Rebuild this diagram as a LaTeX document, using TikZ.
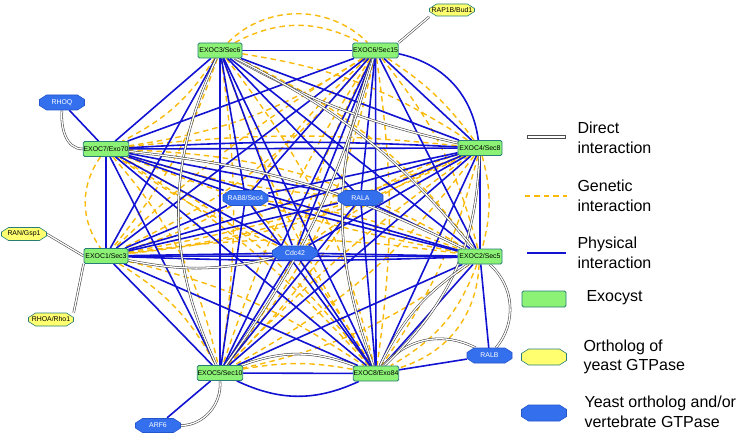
\documentclass[tikz,border=0pt]{standalone}
\usepackage{fontspec}
\setmainfont{Liberation Sans}
\pgfdeclarelayer{bg}
\pgfsetlayers{bg,main}
\definecolor{exofill}{RGB}{140,242,118}
\definecolor{exoborder}{RGB}{40,125,120}
\definecolor{gtpblue}{RGB}{52,112,238}
\definecolor{gtpborder}{RGB}{35,85,205}
\definecolor{gtpyellow}{RGB}{255,255,112}
\definecolor{physblue}{RGB}{18,18,210}
\definecolor{genyellow}{RGB}{250,186,10}
\tikzset{
  exo/.style={draw=exoborder, fill=exofill, rounded corners=1.5pt, minimum width=44pt, minimum height=15pt, inner sep=0.3pt, line width=0.8pt, font=\fontsize{6.9}{7}\selectfont},
  gtpb/.style={draw=gtpborder, fill=gtpblue, line width=0.6pt},
  gtpy/.style={draw=exoborder, fill=gtpyellow, line width=0.6pt},
  gtpbtxt/.style={rectangle, minimum width=45pt, minimum height=15pt, inner sep=0.3pt, text=white, font=\fontsize{6.9}{7}\selectfont},
  gtpytxt/.style={rectangle, minimum width=45pt, minimum height=13pt, inner sep=0.3pt, text=black, font=\fontsize{6.9}{7}\selectfont},
  phys/.style={draw=physblue, line width=1.6pt},
  gen/.style={draw=genyellow, line width=1.4pt, dash pattern=on 5.5pt off 4pt},
  dir/.style={draw=black!75, double=white, line width=0.55pt, double distance=1.3pt},
  legtext/.style={anchor=west, align=left, font=\fontsize{16}{19.5}\selectfont}
}
% #1 name, #2 x, #3 y, #4 kind (gtpb/gtpy), #5 half height, #6 text
\newcommand{\gnode}[6]{%
  \path[#4] (#2-22.5,#3) -- (#2-22.5,#3-#5+4.5) -- (#2-15.5,#3-#5) -- (#2+15.5,#3-#5)
    -- (#2+22.5,#3-#5+4.5) -- (#2+22.5,#3+#5-4.5) -- (#2+15.5,#3+#5) -- (#2-15.5,#3+#5)
    -- (#2-22.5,#3+#5-4.5) -- cycle;
  \node[#4txt] (#1) at (#2,#3) {#6};}
\begin{document}
\begin{tikzpicture}[x=1pt,y=-1pt]
\useasboundingbox (0,0) rectangle (737,436);
% exocyst
\node[exo] (E3) at (220,50.5) {EXOC3/Sec6};
\node[exo] (E6) at (375.5,50.5) {EXOC6/Sec15};
\node[exo] (E7) at (106,149) {EXOC7/Exo70};
\node[exo] (E4) at (480,148) {EXOC4/Sec8};
\node[exo] (E1) at (106,256) {EXOC1/Sec3};
\node[exo] (E2) at (480,256.5) {EXOC2/Sec5};
\node[exo] (E5) at (220,373) {EXOC5/Sec10};
\node[exo] (E8) at (376,373.5) {EXOC8/Exo84};
% GTPases
\gnode{RAP}{452}{10}{gtpy}{6}{RAP1B/Bud1}
\gnode{RHOQ}{62}{102.5}{gtpb}{7.5}{RHOQ}
\gnode{RAN}{24}{234}{gtpy}{6.5}{RAN/Gsp1}
\gnode{RHOA}{51}{319.5}{gtpy}{6.5}{RHOA/Rho1}
\gnode{ARF6}{158}{425.5}{gtpb}{7}{ARF6}
\gnode{RAB8}{245.5}{198}{gtpb}{7.5}{RAB8/Sec4}
\gnode{RALA}{360.5}{198}{gtpb}{7.5}{RALA}
\gnode{CDC}{295}{253}{gtpb}{7}{Cdc42}
\gnode{RALB}{489.5}{355.5}{gtpb}{7.5}{RALB}
% legend
\node[draw=black!70, fill=white, line width=0.7pt, inner sep=0pt, minimum width=38pt, minimum height=3.2pt] (LD) at (546,137) {};
\node[inner sep=0pt, minimum width=42pt, minimum height=4pt] (LG) at (546,196) {};
\node[inner sep=0pt, minimum width=39pt, minimum height=4pt] (LP) at (546.5,253) {};
\draw[gen] (LG.west) -- (LG.east);
\draw[phys] (LP.west) -- (LP.east);
\node[exo, minimum width=44pt, minimum height=16pt] (LEXO) at (544,299) {};
\gnode{LY}{544}{357}{gtpy}{8}{}
\gnode{LB}{544}{413}{gtpb}{8}{}
\node[legtext] (T1) at (574,138) {Direct\\interaction};
\node[legtext] (T2) at (574,196) {Genetic\\interaction};
\node[legtext] (T3) at (574,253) {Physical\\interaction};
\node[legtext] (T4) at (583,298) {Exocyst};
\node[legtext] (T5) at (580,357) {Ortholog of\\yeast GTPase};
\node[legtext] (T6) at (581,412) {Yeast ortholog and/or\\vertebrate GTPase};
\begin{pgfonlayer}{bg}
% genetic interactions
\foreach \a/\b/\bb in {E3/E7/15,E3/E4/12,E3/E1/10,E3/E2/14,E3/E5/8,E3/E8/12,
  E6/E7/12,E6/E4/10,E6/E1/12,E6/E2/12,E6/E5/10,E6/E8/8,
  E7/E4/6,E7/E2/10,E7/E5/14,E7/E8/12,
  E4/E1/10,E4/E2/15,E4/E5/12,E4/E8/10,
  E1/E2/8,E1/E5/15,E1/E8/10,E2/E5/12,E2/E8/20,E5/E8/10}
  \draw[gen] (\a) to[bend left=\bb] (\b);
\foreach \a/\b/\bb in {E3/E4/8,E6/E1/6,E7/E2/5,E6/E5/7,E3/E8/6,E4/E5/5,E1/E4/6,E2/E7/14,E8/E7/8,E5/E6/14}
  \draw[gen] (\a) to[bend right=\bb] (\b);
\draw[gen] (E3) to[bend left=28] (E6);
\draw[gen] (E3) to[bend left=45] (E6);
\draw[gen] (E7) to[bend right=35] (E1);
\draw[gen] (E2) to[bend left=35] (E8);
\foreach \a/\b in {RAB8/E6,RAB8/E2,RAB8/E1,RALA/E7,RALA/E1,RALA/E4,CDC/E7,CDC/E4,CDC/E6,CDC/E5,RAB8/E8,RALA/E5}
  \draw[gen] (\a) to[bend left=6] (\b);
% physical interactions
\foreach \a/\b in {E3/E6,E3/E7,E3/E4,E3/E1,E3/E2,E3/E5,E3/E8,
  E6/E7,E6/E4,E6/E1,E6/E2,E6/E5,E6/E8,
  E7/E4,E7/E1,E7/E2,E7/E5,E7/E8,
  E4/E1,E4/E2,E4/E5,E4/E8,
  E1/E2,E1/E5,E1/E8,E2/E5,E2/E8,E5/E8,
  RHOQ/E7,ARF6/E5,RALB/E8,RALB/E2,
  RAB8/E3,RAB8/E6,RAB8/E7,RAB8/E4,RAB8/E1,RAB8/E2,RAB8/E5,RAB8/E8,
  RALA/E3,RALA/E6,RALA/E7,RALA/E4,RALA/E1,RALA/E2,RALA/E5,RALA/E8,
  CDC/E3,CDC/E6,CDC/E7,CDC/E4,CDC/E1,CDC/E2,CDC/E5,CDC/E8}
  \draw[phys] (\a) -- (\b);
\draw[phys] (E6) to[bend left=35] (E4);
\draw[phys] (E5) to[bend right=25] (E8);
\draw[phys] (E7) to[bend left=3] (E4);
\draw[phys] (E1) to[bend right=2] (E2);
% direct interactions
\draw[dir] (RHOQ.south) to[out=-95,in=180] (E7.west);
\draw[dir] (RAP.south west) -- (E6.north east);
\draw[dir] (RAN.east) -- (E1.west);
\draw[dir] (RHOA.north east) -- (E1.south west);
\draw[dir] (ARF6.east) to[out=0,in=-85] (E5.south);
\draw[dir] (E8) to[bend left=38] (RALB);
\draw[dir] (E2) to[bend left=45] (RALB);
\draw[dir] (E3) to[bend right=25] (E5);
\draw[dir] (E6) to[bend right=20] (E8);
\draw[dir] (E4) to[bend left=22] (E8);
\draw[dir] (E2) to[bend right=15] (E8);
\draw[dir] (E5) to[bend left=20] (E8);
\draw[dir] (E1) to[bend right=12] (CDC);
\draw[dir] (E7) to[bend left=10] (E2);
\draw[dir] (E3) to[bend right=8] (E4);
\draw[dir] (E3) to[bend left=12] (E2);
\draw[dir] (E6) to[bend left=10] (E5);
\end{pgfonlayer}
\end{tikzpicture}
\end{document}
